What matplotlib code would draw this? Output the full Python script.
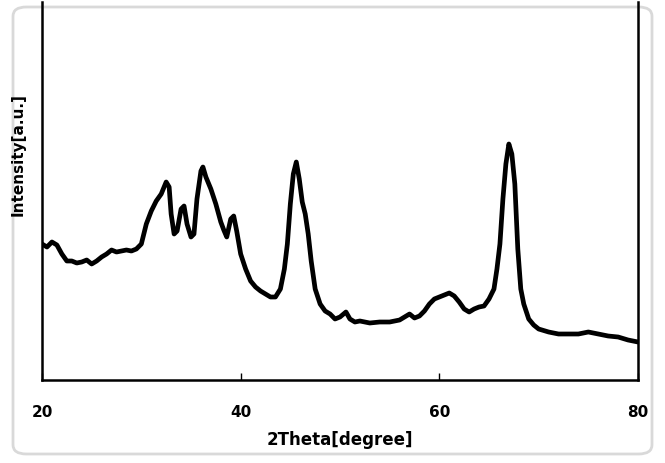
import matplotlib
matplotlib.use("Agg")
import matplotlib.pyplot as plt
from matplotlib.patches import FancyBboxPatch

# XRD pattern (2theta in degrees, intensity in arbitrary units)
two_theta = [20.0, 20.5, 21.0, 21.5, 22.0, 22.5, 23.0, 23.5, 24.0, 24.5, 25.0, 25.5,
             26.0, 26.5, 27.0, 27.5, 28.0, 28.5, 29.0, 29.5, 30.0, 30.5, 31.0, 31.5,
             32.0, 32.5, 32.8, 33.0, 33.3, 33.6, 34.0, 34.3, 34.6, 35.0, 35.3, 35.6,
             36.0, 36.2, 36.5, 37.0, 37.5, 38.0, 38.3, 38.6, 39.0, 39.3, 39.6, 40.0,
             40.5, 41.0, 41.5, 42.0, 42.5, 43.0, 43.5, 44.0, 44.4, 44.7, 45.0, 45.3,
             45.6, 45.9, 46.2, 46.5, 46.8, 47.1, 47.5, 48.0, 48.5, 49.0, 49.5, 50.0,
             50.6, 51.0, 51.5, 52.0, 53.0, 54.0, 55.0, 56.0, 57.0, 57.5, 58.0, 58.5,
             59.0, 59.5, 60.0, 60.5, 61.0, 61.5, 62.0, 62.5, 63.0, 63.5, 64.0, 64.5,
             65.0, 65.5, 65.8, 66.1, 66.4, 66.7, 67.0, 67.3, 67.6, 67.9, 68.2, 68.5,
             69.0, 69.5, 70.0, 71.0, 72.0, 73.0, 74.0, 75.0, 76.0, 77.0, 78.0, 79.0,
             80.0]
intensity = [136, 133, 138, 135, 126, 119, 119, 117, 118, 120, 116, 119,
             123, 126, 130, 128, 129, 130, 129, 131, 136, 156, 169, 179,
             186, 198, 193, 166, 146, 149, 171, 174, 156, 143, 146, 181,
             209, 213, 203, 191, 176, 158, 150, 143, 161, 164, 149, 126,
             111, 99, 93, 89, 86, 83, 83, 91, 111, 136, 176, 206,
             218, 201, 178, 166, 146, 119, 91, 76, 69, 66, 61, 63,
             68, 61, 58, 59, 57, 58, 58, 60, 66, 62, 64, 69,
             76, 81, 83, 85, 87, 84, 78, 71, 68, 71, 73, 74,
             81, 91, 111, 136, 181, 216, 236, 226, 196, 131, 91, 76,
             61, 55, 51, 48, 46, 46, 46, 48, 46, 44, 43, 40,
             38]
xticks = [20, 40, 60, 80]

fig = plt.figure(figsize=(6.65, 4.64), dpi=100)

# rounded light frame around the whole chart
frame = FancyBboxPatch((13 / 665, 9 / 464), 639 / 665, 447 / 464,
                       boxstyle="round,pad=0,rounding_size=0.02",
                       transform=fig.transFigure, facecolor="white",
                       edgecolor="#d9d9d9", linewidth=2, zorder=-5)
fig.patches.append(frame)

ax = fig.add_axes([42 / 665, 1 - 381 / 464, 596 / 665, 378 / 464])
ax.set_zorder(2)
ax.patch.set_alpha(0)
ax.plot(two_theta, intensity, color="black", linewidth=3.4, solid_joinstyle="round")

ax.set_xlim(20, 80)
ax.set_ylim(0, 378)
ax.set_xticks(xticks)
ax.set_yticks([])
ax.tick_params(axis="x", direction="in", length=5, width=1, pad=17,
               labelsize=11)
for lbl in ax.get_xticklabels():
    lbl.set_fontweight("bold")

ax.spines["top"].set_visible(False)
for s in ["left", "right", "bottom"]:
    ax.spines[s].set_linewidth(1.8)

ax.set_xlabel("2Theta[degree]", fontsize=12, fontweight="semibold", labelpad=8)
ax.set_ylabel("Intensity[a.u.]", fontsize=11, fontweight="semibold")
ax.yaxis.set_label_coords(-0.028, 0.6)

fig.savefig("out.png", dpi=100)
